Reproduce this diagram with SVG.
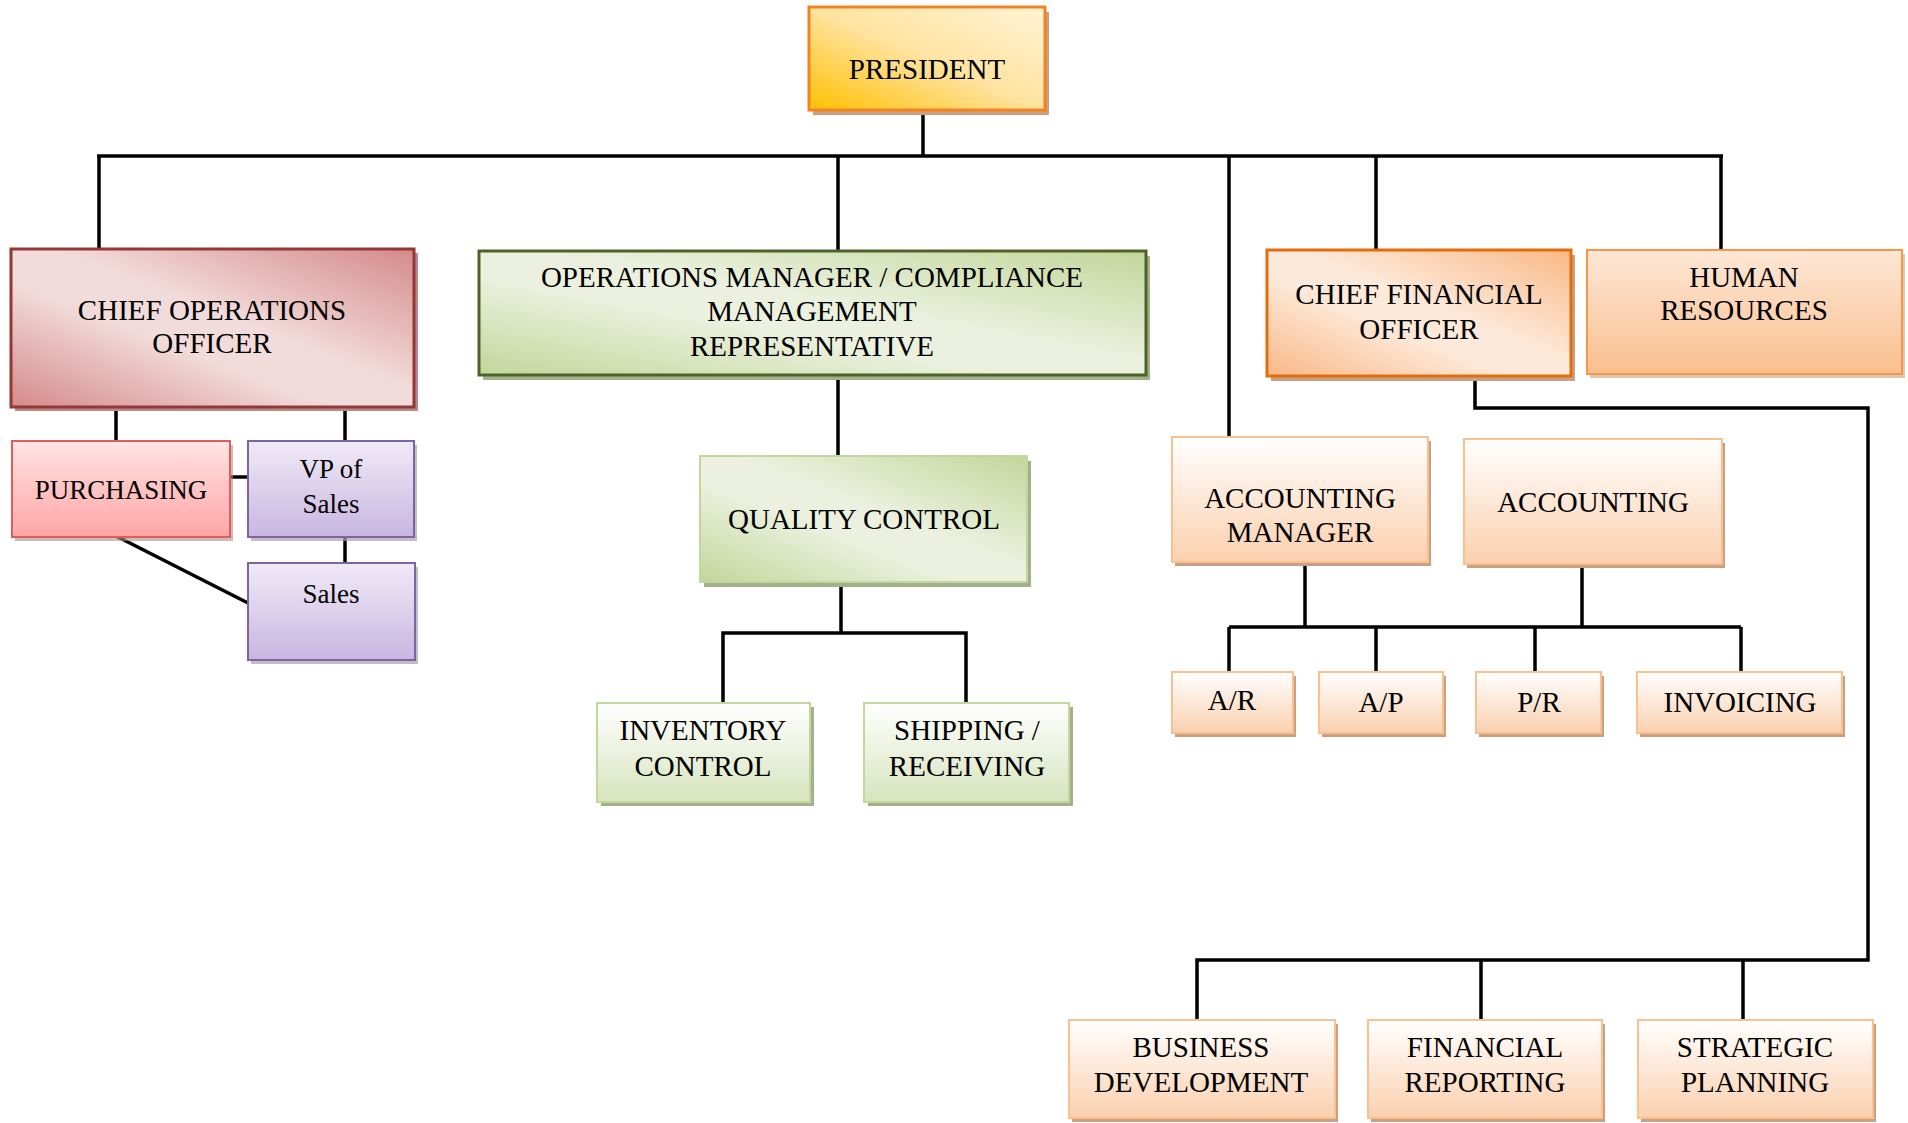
<svg xmlns="http://www.w3.org/2000/svg" width="1908" height="1123" viewBox="0 0 1908 1123">
<defs>
<linearGradient id="gPres" x1="0" y1="1" x2="1" y2="0"><stop offset="0" stop-color="#FFC000"/><stop offset="0.5" stop-color="#FFE3A0"/><stop offset="1" stop-color="#FFF4D6"/></linearGradient>
<linearGradient id="gCoo" x1="1" y1="0" x2="0" y2="1"><stop offset="0" stop-color="#D48A89"/><stop offset="0.45" stop-color="#F2DCDB"/><stop offset="0.6" stop-color="#F2DCDB"/><stop offset="1" stop-color="#D48A89"/></linearGradient>
<linearGradient id="gCfo" x1="1" y1="0" x2="0" y2="1"><stop offset="0" stop-color="#F9B886"/><stop offset="0.45" stop-color="#FDE9D9"/><stop offset="0.6" stop-color="#FDE9D9"/><stop offset="1" stop-color="#F9B886"/></linearGradient>
<linearGradient id="gGreenD" x1="1" y1="0" x2="0" y2="1"><stop offset="0" stop-color="#C3D69B"/><stop offset="0.45" stop-color="#EBF1DE"/><stop offset="0.6" stop-color="#EBF1DE"/><stop offset="1" stop-color="#C3D69B"/></linearGradient>
<linearGradient id="gGreenV" x1="0" y1="0" x2="0" y2="1"><stop offset="0" stop-color="#FFFFFF"/><stop offset="1" stop-color="#D7E4BD"/></linearGradient>
<linearGradient id="gOrV" x1="0" y1="0" x2="0" y2="1"><stop offset="0" stop-color="#FFFFFF"/><stop offset="1" stop-color="#FBD0AE"/></linearGradient>
<linearGradient id="gHr" x1="0" y1="0" x2="0" y2="1"><stop offset="0" stop-color="#FDE7D6"/><stop offset="1" stop-color="#FABF8F"/></linearGradient>
<linearGradient id="gPink" x1="0" y1="0" x2="0" y2="1"><stop offset="0" stop-color="#FFE3E3"/><stop offset="1" stop-color="#FFA5A5"/></linearGradient>
<linearGradient id="gPurple" x1="0" y1="0" x2="0" y2="1"><stop offset="0" stop-color="#F0EAF7"/><stop offset="1" stop-color="#C8B6E1"/></linearGradient>
</defs>
<style>
text{font-family:"Liberation Serif","Times New Roman",serif;font-size:29px;fill:#000;text-anchor:middle}
.sm{font-size:27px}
.lines line,.lines polyline{stroke:#000;stroke-width:3.5;fill:none}
.shO{fill:#C9A081}
.shG{fill:#A3B08C}
.shR{fill:#B58C8B}
.shP{fill:#A8A0B0}
</style>
<rect width="1908" height="1123" fill="#FFFFFF"/>
<g class="lines" id="connectors">
<line x1="923" y1="110" x2="923" y2="156"/>
<line x1="97" y1="156" x2="1723" y2="156"/>
<line x1="99" y1="156" x2="99" y2="249"/>
<line x1="838" y1="156" x2="838" y2="251"/>
<line x1="1229" y1="156" x2="1229" y2="437"/>
<line x1="1376" y1="156" x2="1376" y2="250"/>
<line x1="1721" y1="156" x2="1721" y2="250"/>
<line x1="116" y1="407" x2="116" y2="441"/>
<line x1="345" y1="407" x2="345" y2="441"/>
<line x1="230" y1="477" x2="248" y2="477"/>
<line x1="345" y1="537" x2="345" y2="563"/>
<line x1="116" y1="536" x2="248" y2="603"/>
<line x1="838" y1="375" x2="838" y2="456"/>
<line x1="841" y1="582" x2="841" y2="633"/>
<polyline points="723,702 723,633 966,633 966,702"/>
<polyline points="1475,376 1475,408 1868,408 1868,960 1197,960 1197,1020"/>
<line x1="1481" y1="960" x2="1481" y2="1020"/>
<line x1="1743" y1="960" x2="1743" y2="1020"/>
<line x1="1305" y1="562" x2="1305" y2="627"/>
<line x1="1582" y1="564" x2="1582" y2="627"/>
<line x1="1229" y1="627" x2="1741" y2="627"/>
<line x1="1229" y1="627" x2="1229" y2="672"/>
<line x1="1376" y1="627" x2="1376" y2="672"/>
<line x1="1535" y1="627" x2="1535" y2="672"/>
<line x1="1741" y1="627" x2="1741" y2="672"/>
</g>
<g id="president">
<rect class="shO" x="813" y="12" width="236" height="103"/>
<rect x="809" y="7" width="236" height="103" fill="url(#gPres)" stroke="#F58220" stroke-width="3"/>
<text x="927" y="79">PRESIDENT</text>
</g>
<g id="coo">
<rect class="shR" x="15" y="253" width="403" height="158"/>
<rect x="11" y="249" width="403" height="158" fill="url(#gCoo)" stroke="#953735" stroke-width="3"/>
<text x="212" y="320">CHIEF OPERATIONS</text>
<text x="212" y="353">OFFICER</text>
</g>
<g id="purchasing">
<rect class="shR" x="15" y="445" width="218" height="96" opacity="0.6"/>
<rect x="12" y="441" width="218" height="96" fill="url(#gPink)" stroke="#D9605C" stroke-width="2"/>
<text class="sm" x="121" y="499">PURCHASING</text>
</g>
<g id="vp-sales">
<rect class="shP" x="251" y="445" width="166" height="96" opacity="0.7"/>
<rect x="248" y="441" width="166" height="96" fill="url(#gPurple)" stroke="#8064A2" stroke-width="2"/>
<text class="sm" x="331" y="478">VP of</text>
<text class="sm" x="331" y="513">Sales</text>
</g>
<g id="sales">
<rect class="shP" x="251" y="567" width="167" height="97" opacity="0.7"/>
<rect x="248" y="563" width="167" height="97" fill="url(#gPurple)" stroke="#8064A2" stroke-width="2"/>
<text class="sm" x="331" y="603">Sales</text>
</g>
<g id="ops-manager">
<rect class="shG" x="483" y="256" width="667" height="124"/>
<rect x="479" y="251" width="667" height="124" fill="url(#gGreenD)" stroke="#4F6228" stroke-width="3"/>
<text x="812" y="287">OPERATIONS MANAGER / COMPLIANCE</text>
<text x="812" y="321">MANAGEMENT</text>
<text x="812" y="356">REPRESENTATIVE</text>
</g>
<g id="quality-control">
<rect class="shG" x="704" y="461" width="327" height="126"/>
<rect x="700" y="456" width="327" height="126" fill="url(#gGreenD)" stroke="#C3D69B" stroke-width="2"/>
<text x="864" y="529">QUALITY CONTROL</text>
</g>
<g id="inventory-control">
<rect class="shG" x="601" y="707" width="213" height="99"/>
<rect x="597" y="703" width="213" height="99" fill="url(#gGreenV)" stroke="#C3D69B" stroke-width="2"/>
<text x="703" y="740">INVENTORY</text>
<text x="703" y="776">CONTROL</text>
</g>
<g id="shipping-receiving">
<rect class="shG" x="868" y="707" width="205" height="99"/>
<rect x="864" y="703" width="205" height="99" fill="url(#gGreenV)" stroke="#C3D69B" stroke-width="2"/>
<text x="967" y="740">SHIPPING /</text>
<text x="967" y="776">RECEIVING</text>
</g>
<g id="cfo">
<rect class="shO" x="1271" y="255" width="304" height="126"/>
<rect x="1267" y="250" width="304" height="126" fill="url(#gCfo)" stroke="#E46C0A" stroke-width="3"/>
<text x="1419" y="304">CHIEF FINANCIAL</text>
<text x="1419" y="339">OFFICER</text>
</g>
<g id="human-resources">
<rect class="shO" x="1590" y="254" width="315" height="124" opacity="0.6"/>
<rect x="1587" y="250" width="315" height="124" fill="url(#gHr)" stroke="#F79646" stroke-width="2"/>
<text x="1744" y="287">HUMAN</text>
<text x="1744" y="320">RESOURCES</text>
</g>
<g id="accounting-manager">
<rect class="shO" x="1175" y="441" width="256" height="125"/>
<rect x="1172" y="437" width="256" height="125" fill="url(#gOrV)" stroke="#FAC090" stroke-width="2"/>
<text x="1300" y="508">ACCOUNTING</text>
<text x="1300" y="542">MANAGER</text>
</g>
<g id="accounting">
<rect class="shO" x="1467" y="443" width="258" height="125"/>
<rect x="1464" y="439" width="258" height="125" fill="url(#gOrV)" stroke="#FAC090" stroke-width="2"/>
<text x="1593" y="512">ACCOUNTING</text>
</g>
<g id="ar">
<rect class="shO" x="1175" y="676" width="121" height="61"/>
<rect x="1172" y="672" width="121" height="61" fill="url(#gOrV)" stroke="#FAC090" stroke-width="2"/>
<text x="1232" y="710">A/R</text>
</g>
<g id="ap">
<rect class="shO" x="1322" y="676" width="124" height="61"/>
<rect x="1319" y="672" width="124" height="61" fill="url(#gOrV)" stroke="#FAC090" stroke-width="2"/>
<text x="1381" y="712">A/P</text>
</g>
<g id="pr">
<rect class="shO" x="1479" y="676" width="125" height="61"/>
<rect x="1476" y="672" width="125" height="61" fill="url(#gOrV)" stroke="#FAC090" stroke-width="2"/>
<text x="1539" y="712">P/R</text>
</g>
<g id="invoicing">
<rect class="shO" x="1640" y="676" width="205" height="61"/>
<rect x="1637" y="672" width="205" height="61" fill="url(#gOrV)" stroke="#FAC090" stroke-width="2"/>
<text x="1740" y="712">INVOICING</text>
</g>
<g id="business-development">
<rect class="shO" x="1072" y="1024" width="266" height="98"/>
<rect x="1069" y="1020" width="266" height="98" fill="url(#gOrV)" stroke="#FAC090" stroke-width="2"/>
<text x="1201" y="1057">BUSINESS</text>
<text x="1201" y="1092">DEVELOPMENT</text>
</g>
<g id="financial-reporting">
<rect class="shO" x="1371" y="1024" width="234" height="98"/>
<rect x="1368" y="1020" width="234" height="98" fill="url(#gOrV)" stroke="#FAC090" stroke-width="2"/>
<text x="1485" y="1057">FINANCIAL</text>
<text x="1485" y="1092">REPORTING</text>
</g>
<g id="strategic-planning">
<rect class="shO" x="1641" y="1024" width="235" height="98"/>
<rect x="1638" y="1020" width="235" height="98" fill="url(#gOrV)" stroke="#FAC090" stroke-width="2"/>
<text x="1755" y="1057">STRATEGIC</text>
<text x="1755" y="1092">PLANNING</text>
</g>
</svg>
